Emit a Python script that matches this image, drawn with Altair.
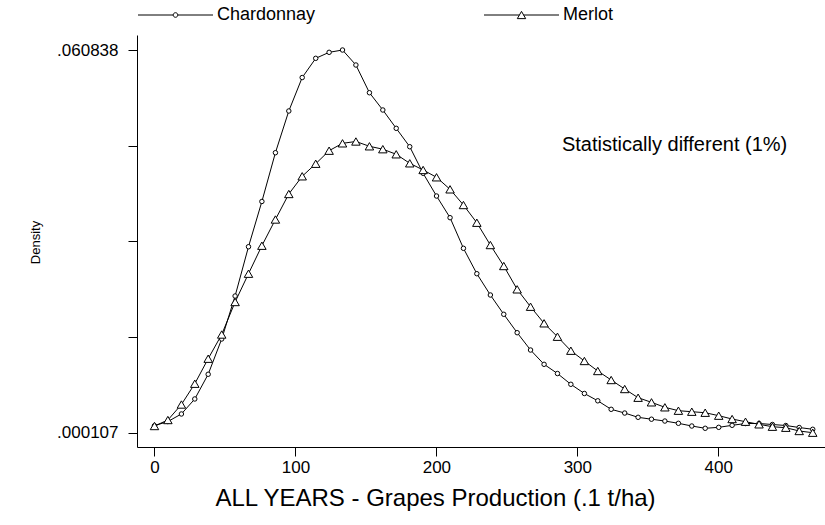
import altair as alt
import pandas as pd

# Kernel density grid (.1 t/ha) and the two estimated densities
production = [0.0, 9.5, 19.1, 28.6, 38.1, 47.7, 57.2, 66.7, 76.2, 85.8,
              95.3, 104.8, 114.4, 123.9, 133.4, 142.9, 152.5, 162.0, 171.5, 181.1,
              190.6, 200.1, 209.7, 219.2, 228.7, 238.3, 247.8, 257.3, 266.8, 276.4,
              285.9, 295.4, 305.0, 314.5, 324.0, 333.6, 343.1, 352.6, 362.1, 371.7,
              381.2, 390.7, 400.3, 409.8, 419.3, 428.9, 438.4, 447.9, 457.4, 467.0]

chardonnay = [0.00122, 0.00188, 0.00308, 0.00546, 0.00938, 0.01498, 0.02180, 0.02962, 0.03680, 0.04454,
              0.05116, 0.05647, 0.05952, 0.06047, 0.060838, 0.05846, 0.05406, 0.05132, 0.04841, 0.04549,
              0.04127, 0.03767, 0.03423, 0.02937, 0.02534, 0.02196, 0.01890, 0.01598, 0.01323, 0.01096,
              0.00950, 0.00779, 0.00633, 0.00517, 0.00382, 0.00323, 0.00255, 0.00225, 0.00196, 0.00160,
              0.00117, 0.00081, 0.00096, 0.00128, 0.00157, 0.00157, 0.00141, 0.00125, 0.00093, 0.00065]

merlot = [0.00117, 0.00212, 0.00458, 0.00788, 0.01185, 0.01569, 0.02085, 0.02534, 0.02978, 0.03394,
          0.03799, 0.04080, 0.04279, 0.04486, 0.04603, 0.04632, 0.04556, 0.04510, 0.04429, 0.04286,
          0.04180, 0.04064, 0.03873, 0.03624, 0.03343, 0.02989, 0.02656, 0.02286, 0.02010, 0.01747,
          0.01534, 0.01312, 0.01149, 0.00990, 0.00847, 0.00704, 0.00566, 0.00493, 0.00414, 0.00360,
          0.00344, 0.00328, 0.00281, 0.00228, 0.00185, 0.00144, 0.00106, 0.00090, 0.00038, 0.000107]

varieties = ["Chardonnay", "Merlot"]
x_ticks = [0, 100, 200, 300, 400]
y_ticks = [0.000107, 0.01528975, 0.0304725, 0.04565525, 0.060838]

note_text = ["Statistically different (1%)"]
note_x = [369]
note_y = [0.04576]

rows = []
for x, c, m in zip(production, chardonnay, merlot):
    rows.append({"x": x, "density": c, "variety": "Chardonnay"})
    rows.append({"x": x, "density": m, "variety": "Merlot"})
df = pd.DataFrame(rows)
notes = pd.DataFrame({"x": note_x, "density": note_y, "label": note_text})

FONT = "Liberation Sans"

x_scale = alt.Scale(domain=[-12.4, 475.7], nice=False, zero=False)
y_scale = alt.Scale(domain=[-0.00216, 0.06322], nice=False, zero=False)

x_axis = alt.Axis(
    values=x_ticks, grid=False, tickSize=9, tickColor="black", domainColor="black",
    labelFont=FONT, labelFontSize=17, labelColor="black", labelPadding=3,
    labelFlush=False, labelOverlap=False,
    title="ALL YEARS - Grapes Production (.1 t/ha)", titleFont=FONT, titleFontSize=24,
    titleFontWeight="normal", titleColor="black", titleX=298, titleY=58,
    titleAlign="center", titleBaseline="alphabetic",
)
y_axis = alt.Axis(
    values=y_ticks, grid=False, tickSize=9, tickColor="black", domainColor="black",
    labelExpr="datum.value < 0.001 || datum.value > 0.06 ? replace(format(datum.value, '.6f'), '0.', '.') : ''",
    labelFont=FONT, labelFontSize=17, labelColor="black", labelPadding=10,
    labelFlush=False, labelOverlap=False,
    title="Density", titleFont=FONT, titleFontSize=13, titleFontWeight="normal",
    titleColor="black", titleX=-102, titleY=207, titleAngle=270,
    titleAlign="center", titleBaseline="middle",
)

X = alt.X("x:Q", scale=x_scale, axis=x_axis)
Y = alt.Y("density:Q", scale=y_scale, axis=y_axis)

lines = alt.Chart(df).mark_line(color="black", strokeWidth=1).encode(
    x=X, y=Y, detail="variety:N"
)

chard_pts = alt.Chart(df).transform_filter(alt.datum.variety == "Chardonnay").mark_point(
    shape="circle", size=20, filled=True, fill="white", stroke="black", strokeWidth=1, opacity=1
).encode(x="x:Q", y="density:Q")

merlot_pts = alt.Chart(df).transform_filter(alt.datum.variety == "Merlot").mark_point(
    shape="triangle-up", size=72, filled=True, fill="white", stroke="black", strokeWidth=1, opacity=1
).encode(x="x:Q", y="density:Q")

# Legend keys: a line segment with the series marker in its middle
circle_key = ("M-1,0H-0.0613M0.0613,0H1M-0.0613,0A0.0613,0.0613,0,1,0,0.0613,0"
              "A0.0613,0.0613,0,1,0,-0.0613,0Z")
triangle_key = "M-1,0H-0.056M0.056,0H1M0,-0.097L0.112,0.097L-0.112,0.097Z"

key_layer = alt.Chart(df).transform_filter("datum.x < -1000").mark_point(
    filled=False, color="black", strokeWidth=1, opacity=1
).encode(
    x="x:Q", y="density:Q",
    shape=alt.Shape(
        "variety:N",
        scale=alt.Scale(domain=varieties, range=[circle_key, triangle_key]),
        legend=alt.Legend(
            title=None, orient="none", legendX=0.5, legendY=-28, direction="horizontal",
            columns=2, columnPadding=168, padding=0, clipHeight=16,
            symbolSize=5625, symbolStrokeWidth=1, symbolStrokeColor="black",
            symbolOpacity=1,
            labelFont=FONT, labelFontSize=18, labelColor="black", labelOffset=3.5,
            labelBaseline="middle",
        ),
    ),
)

note = alt.Chart(notes).mark_text(
    font=FONT, fontSize=20, color="black", align="center", baseline="middle"
).encode(x="x:Q", y="density:Q", text="label:N")

chart = alt.layer(lines, chard_pts, merlot_pts, key_layer, note).properties(
    width=688, height=412,
    autosize=alt.AutoSizeParams(type="none"),
    padding={"left": 137, "top": 35, "right": 0, "bottom": 78},
    background="white",
).configure_view(stroke=None)

chart.save("out.html", embed_options={"renderer": "svg", "actions": False})
